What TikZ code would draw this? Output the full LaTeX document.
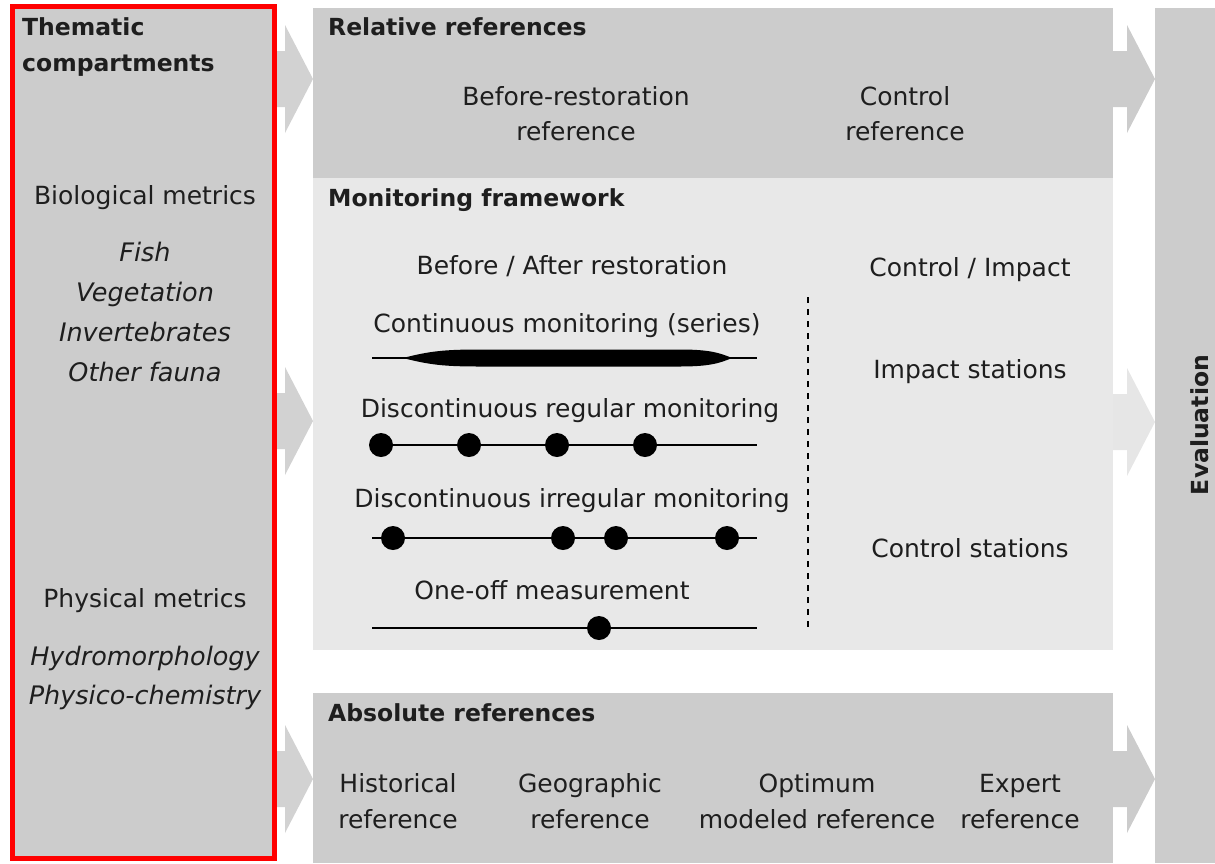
\documentclass[tikz,border=0pt]{standalone}
\usepackage{fontspec}
\setmainfont{DejaVu Sans}
\definecolor{boxdark}{HTML}{CCCCCC}
\definecolor{boxlight}{HTML}{E8E8E8}
\definecolor{arrdark}{HTML}{D2D2D2}
\definecolor{arrlight}{HTML}{E6E6E6}
\definecolor{txtc}{HTML}{1E1E1E}
\definecolor{redc}{HTML}{FF0000}
\begin{document}
\begin{tikzpicture}[x=1pt,y=-1pt,
  txt/.style={font=\fontsize{25}{30}\selectfont, text=txtc, inner sep=0pt, anchor=center, text height=18.5pt, text depth=0pt},
  bld/.style={font=\bfseries\fontsize{23.5}{28}\selectfont, text=txtc, inner sep=0pt, anchor=west, text height=17.5pt, text depth=0pt},
  itl/.style={font=\itshape\fontsize{25.5}{30}\selectfont, text=txtc, inner sep=0pt, anchor=center, text height=18.5pt, text depth=0pt},
  dot/.style={circle, fill=black, minimum size=24pt, inner sep=0pt},
  tl/.style={line width=2.5pt, black},
]
\useasboundingbox (0,0) rectangle (1215,863);
% panels
\fill[boxdark] (12.5,6.5) rectangle (274.5,858.5);
\draw[redc, line width=5pt] (12.5,6.5) rectangle (274.5,858.5);
\fill[boxdark] (313,8) rectangle (1113,178);
\fill[boxlight] (313,178) rectangle (1113,650);
\fill[boxdark] (313,693) rectangle (1113,863);
\fill[boxdark] (1155,8) rectangle (1215,863);
% left arrows
\foreach \c in {79,421,779} {
  \fill[arrdark] (277,\c-28) -- (285,\c-28) -- (285,\c-54) -- (313,\c) -- (285,\c+54) -- (285,\c+28) -- (277,\c+28) -- cycle;
}
% right arrows
\fill[boxdark] (1113,79-28) -- (1127,79-28) -- (1127,79-54) -- (1155,79) -- (1127,79+54) -- (1127,79+28) -- (1113,79+28) -- cycle;
\fill[arrlight] (1113,422-28) -- (1127,422-28) -- (1127,422-54) -- (1155,422) -- (1127,422+54) -- (1127,422+28) -- (1113,422+28) -- cycle;
\fill[boxdark] (1113,779-28) -- (1127,779-28) -- (1127,779-54) -- (1155,779) -- (1127,779+54) -- (1127,779+28) -- (1113,779+28) -- cycle;
% left panel text
\node[bld] (them1) at (22,27) {Thematic};
\node[bld] (them2) at (22,63) {compartments};
\node[txt] (bio) at (145,195) {Biological metrics};
\node[itl] (fish) at (145,252) {Fish};
\node[itl] (veg) at (145,292) {Vegetation};
\node[itl] (inv) at (145,332) {Invertebrates};
\node[itl] (oth) at (145,372) {Other fauna};
\node[txt] (phy) at (145,598) {Physical metrics};
\node[itl] (hyd) at (145,656) {Hydromorphology};
\node[itl] (phc) at (145,695) {Physico-chemistry};
% relative references
\node[bld] (rel) at (328,27) {Relative references};
\node[txt] (br1) at (576,96) {Before-restoration};
\node[txt] (br2) at (576,131) {reference};
\node[txt] (cr1) at (905,96) {Control};
\node[txt] (cr2) at (905,131) {reference};
% monitoring
\node[bld] (mon) at (328,198) {Monitoring framework};
\node[txt] (ba) at (572,265) {Before / After restoration};
\node[txt] (ci) at (970,267) {Control / Impact};
\node[txt] (cont) at (567,323) {Continuous monitoring (series)};
\coordinate (l1a) at (372,358); \coordinate (l1b) at (757,358);
\draw[tl] (l1a) -- (l1b);
\fill[black] (403,358) .. controls (430,351) and (445,349.5) .. (480,349.5) -- (680,349.5) .. controls (710,349.5) and (720,353) .. (732,358)
  .. controls (720,363) and (710,366.5) .. (680,366.5) -- (480,366.5) .. controls (445,366.5) and (430,365) .. (403,358) -- cycle;
\node[txt] (dreg) at (570,408) {Discontinuous regular monitoring};
\coordinate (l2a) at (372,445); \coordinate (l2b) at (757,445);
\draw[tl] (l2a) -- (l2b);
\node[dot] (r1) at (381,445) {};
\node[dot] (r2) at (469,445) {};
\node[dot] (r3) at (557,445) {};
\node[dot] (r4) at (645,445) {};
\node[txt] (dirr) at (572,498) {Discontinuous irregular monitoring};
\coordinate (l3a) at (372,538); \coordinate (l3b) at (757,538);
\draw[tl] (l3a) -- (l3b);
\node[dot] (i1) at (393,538) {};
\node[dot] (i2) at (563,538) {};
\node[dot] (i3) at (616,538) {};
\node[dot] (i4) at (727,538) {};
\node[txt] (one) at (552,590) {One-off measurement};
\coordinate (l4a) at (372,628); \coordinate (l4b) at (757,628);
\draw[tl] (l4a) -- (l4b);
\node[dot] (o1) at (599,628) {};
\coordinate (da) at (808,297); \coordinate (db) at (808,632);
\draw[line width=2pt, dash pattern=on 6pt off 6pt] (da) -- (db);
\node[txt] (imp) at (970,369) {Impact stations};
\node[txt] (ctl) at (970,548) {Control stations};
% absolute
\node[bld] (abs) at (328,713) {Absolute references};
\node[txt] (h1) at (398,783) {Historical};
\node[txt] (h2) at (398,819) {reference};
\node[txt] (g1) at (590,783) {Geographic};
\node[txt] (g2) at (590,819) {reference};
\node[txt] (o1t) at (817,783) {Optimum};
\node[txt] (o2t) at (817,819) {modeled reference};
\node[txt] (e1) at (1020,783) {Expert};
\node[txt] (e2) at (1020,819) {reference};
% evaluation
\node[bld, anchor=center, rotate=90] (eval) at (1200,425) {Evaluation};
\end{tikzpicture}
\end{document}
